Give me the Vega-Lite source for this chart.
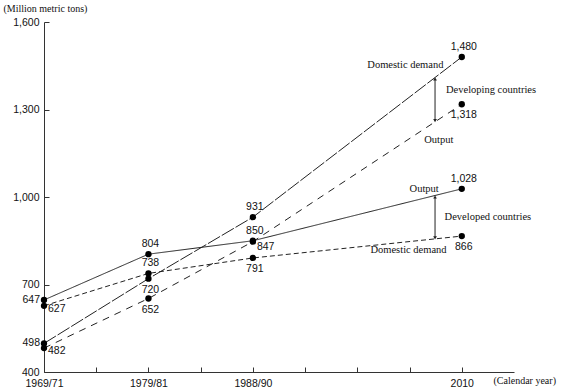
{
  "$schema": "https://vega.github.io/schema/vega-lite/v6.json",
  "width": 470,
  "height": 350,
  "autosize": {"type": "none"},
  "padding": {"left": 44, "top": 22, "right": 52, "bottom": 20},
  "background": "white",
  "config": {
    "view": {"stroke": null},
    "axis": {"grid": false, "domainColor": "#333", "tickColor": "#333", "labelColor": "#111", "labelFont": "Liberation Sans", "labelFontSize": 10.5, "titleFont": "Liberation Serif", "titleFontWeight": "normal", "titleFontSize": 10, "titleColor": "#111"}
  },
  "datasets": {
    "series": [
      {"series": "Developed output", "year": 1970, "value": 647},
      {"series": "Developed output", "year": 1980, "value": 804},
      {"series": "Developed output", "year": 1990, "value": 850},
      {"series": "Developed output", "year": 2010, "value": 1028},
      {"series": "Developed demand", "year": 1970, "value": 627},
      {"series": "Developed demand", "year": 1980, "value": 738},
      {"series": "Developed demand", "year": 1990, "value": 791},
      {"series": "Developed demand", "year": 2010, "value": 866},
      {"series": "Developing demand", "year": 1970, "value": 498},
      {"series": "Developing demand", "year": 1980, "value": 720},
      {"series": "Developing demand", "year": 1990, "value": 931},
      {"series": "Developing demand", "year": 2010, "value": 1480},
      {"series": "Developing output", "year": 1970, "value": 482},
      {"series": "Developing output", "year": 1980, "value": 652},
      {"series": "Developing output", "year": 1990, "value": 847},
      {"series": "Developing output", "year": 2010, "value": 1318}
    ],
    "notes": [
      {"text": "Domestic demand", "year": 2004.6, "value": 1453},
      {"text": "Developing countries", "year": 2012.8, "value": 1367},
      {"text": "Output", "year": 2007.8, "value": 1197},
      {"text": "Output", "year": 2006.4, "value": 1029},
      {"text": "Developed countries", "year": 2012.5, "value": 930},
      {"text": "Domestic demand", "year": 2004.9, "value": 817}
    ],
    "arrows": [
      {"group": "Developing countries", "year": 2007.44, "top": 1405, "bottom": 1262},
      {"group": "Developed countries", "year": 2007.44, "top": 1000, "bottom": 860}
    ]
  },
  "layer": [
    {
      "data": {"name": "series"},
      "mark": {"type": "line", "color": "#222", "strokeWidth": 1},
      "encoding": {
        "x": {"field": "year", "type": "quantitative", "scale": {"domain": [1970, 2015], "nice": false, "zero": false},
          "axis": {"values": [1970, 1975, 1980, 1985, 1990, 1995, 2000, 2005, 2010], "tickSize": -5, "labelPadding": 11,
            "labelExpr": "datum.value == 1970 ? '1969/71' : datum.value == 1980 ? '1979/81' : datum.value == 1990 ? '1988/90' : datum.value == 2010 ? '2010' : ''",
            "title": "(Calendar year)", "titleAnchor": "start", "titleAlign": "left", "titleBaseline": "middle", "titleX": 449, "titleY": 8, "labelFlush": false}},
        "y": {"field": "value", "type": "quantitative", "scale": {"domain": [400, 1600], "nice": false, "zero": false},
          "axis": {"values": [400, 700, 1000, 1300, 1600], "format": ",d", "tickSize": -5, "labelPadding": 10,
            "title": "(Million metric tons)", "titleAngle": 0, "titleAlign": "left", "titleBaseline": "middle", "titleX": -41, "titleY": -14}},
        "detail": {"field": "series"},
        "strokeDash": {"field": "series", "type": "nominal",
          "scale": {"domain": ["Developed output", "Developed demand", "Developing demand", "Developing output"], "range": [[1, 0], [5, 3], [14, 2], [7, 6]]},
          "legend": null}
      }
    },
    {
      "data": {"name": "series"},
      "mark": {"type": "point", "filled": true, "color": "#000", "opacity": 1, "size": 40},
      "encoding": {
        "x": {"field": "year", "type": "quantitative"},
        "y": {"field": "value", "type": "quantitative"}
      }
    },
    {
      "data": {"name": "series"},
      "transform": [{"filter": {"field": "value", "oneOf": [804, 931, 850, 1480, 1028, 738]}}],
      "mark": {"type": "text", "font": "Liberation Sans", "fontSize": 10.5, "color": "#111", "dy": -10, "dx": 2},
      "encoding": {
        "x": {"field": "year", "type": "quantitative"},
        "y": {"field": "value", "type": "quantitative"},
        "text": {"field": "value", "type": "quantitative", "format": ",d"}
      }
    },
    {
      "data": {"name": "series"},
      "transform": [{"filter": {"field": "value", "oneOf": [720, 652, 791, 1318, 866]}}],
      "mark": {"type": "text", "font": "Liberation Sans", "fontSize": 10.5, "color": "#111", "dy": 11, "dx": 2},
      "encoding": {
        "x": {"field": "year", "type": "quantitative"},
        "y": {"field": "value", "type": "quantitative"},
        "text": {"field": "value", "type": "quantitative", "format": ",d"}
      }
    },
    {
      "data": {"name": "series"},
      "transform": [{"filter": {"field": "value", "oneOf": [847]}}],
      "mark": {"type": "text", "font": "Liberation Sans", "fontSize": 10.5, "color": "#111", "dy": 5, "dx": 4, "align": "left"},
      "encoding": {
        "x": {"field": "year", "type": "quantitative"},
        "y": {"field": "value", "type": "quantitative"},
        "text": {"field": "value", "type": "quantitative", "format": ",d"}
      }
    },
    {
      "data": {"name": "series"},
      "transform": [{"filter": {"field": "value", "oneOf": [647, 498]}}],
      "mark": {"type": "text", "font": "Liberation Sans", "fontSize": 10.5, "color": "#111", "dx": -4, "align": "right"},
      "encoding": {
        "x": {"field": "year", "type": "quantitative"},
        "y": {"field": "value", "type": "quantitative"},
        "text": {"field": "value", "type": "quantitative", "format": ",d"}
      }
    },
    {
      "data": {"name": "series"},
      "transform": [{"filter": {"field": "value", "oneOf": [627, 482]}}],
      "mark": {"type": "text", "font": "Liberation Sans", "fontSize": 10.5, "color": "#111", "dx": 4, "dy": 3, "align": "left"},
      "encoding": {
        "x": {"field": "year", "type": "quantitative"},
        "y": {"field": "value", "type": "quantitative"},
        "text": {"field": "value", "type": "quantitative", "format": ",d"}
      }
    },
    {
      "data": {"name": "notes"},
      "mark": {"type": "text", "font": "Liberation Serif", "fontSize": 10.5, "color": "#111"},
      "encoding": {
        "x": {"field": "year", "type": "quantitative"},
        "y": {"field": "value", "type": "quantitative"},
        "text": {"field": "text"}
      }
    },
    {
      "data": {"name": "arrows"},
      "mark": {"type": "rule", "color": "#222", "strokeWidth": 1},
      "encoding": {
        "x": {"field": "year", "type": "quantitative"},
        "y": {"field": "top", "type": "quantitative"},
        "y2": {"field": "bottom"}
      }
    },
    {
      "data": {"name": "arrows"},
      "mark": {"type": "point", "shape": "triangle-up", "filled": true, "color": "#222", "opacity": 1, "size": 14},
      "encoding": {
        "x": {"field": "year", "type": "quantitative"},
        "y": {"field": "top", "type": "quantitative"}
      }
    },
    {
      "data": {"name": "arrows"},
      "mark": {"type": "point", "shape": "triangle-down", "filled": true, "color": "#222", "opacity": 1, "size": 14},
      "encoding": {
        "x": {"field": "year", "type": "quantitative"},
        "y": {"field": "bottom", "type": "quantitative"}
      }
    }
  ]
}
